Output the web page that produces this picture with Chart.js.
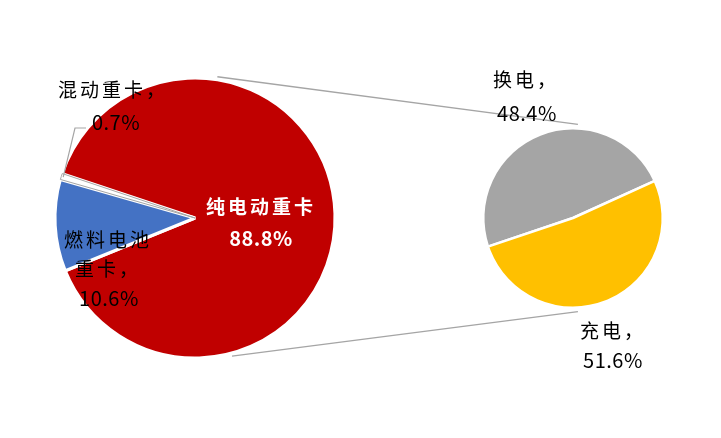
<!DOCTYPE html>
<html>
<head>
<meta charset="utf-8">
<script src="https://cdn.jsdelivr.net/npm/chart.js@4.4.0/dist/chart.umd.min.js"></script>
<style>
  html, body { margin: 0; padding: 0; background: #fff; }
  #wrap { position: relative; width: 721px; height: 438px; }
  #wrap canvas { position: absolute; left: 0; top: 0; }
</style>
</head>
<body>
<div id="wrap">
  <canvas id="mainPie" width="721" height="438"></canvas>
  <canvas id="subPie" width="721" height="438"></canvas>
</div>
<script>
// ******************************************************** DATA
var mainLabels = ['纯电动重卡', '燃料电池重卡', '混动重卡'];
var mainValues = [88.8, 10.6, 0.7];
var subLabels  = ['换电', '充电'];
var subValues  = [48.4, 51.6];

var mainColors = ['#C00000', '#4472C4', '#FFFFFF'];
var subColors  = ['#A5A5A5', '#FFC000'];

var CN_FONT = '"Noto Sans CJK SC", "Noto Sans", sans-serif';

function pct(v) { return v.toFixed(1) + '%'; }

// text lines for each slice: [text, x, y]
var mainText = [
  { color: '#FFFFFF', bold: true, lines: [[mainLabels[0], 261, 207], [pct(mainValues[0]), 261, 238]] },
  { color: '#000000', lines: [['燃料电池', 108, 240], ['重卡，', 108, 269], [pct(mainValues[1]), 109, 298]] },
  { color: '#000000', lines: [[mainLabels[2] + '，', 113, 90], [pct(mainValues[2]), 116, 122]] }
];
var subText = [
  { color: '#000000', lines: [[subLabels[0] + '，', 526, 80], [pct(subValues[0]), 527, 113]] },
  { color: '#000000', lines: [[subLabels[1] + '，', 613, 331], [pct(subValues[1]), 613, 360]] }
];

function drawTexts(ctx, list) {
  ctx.save();
  ctx.textAlign = 'center';
  ctx.textBaseline = 'middle';
  list.forEach(function (item) {
    ctx.fillStyle = item.color;
    item.lines.forEach(function (l) {
      var isNum = /%$/.test(l[0]);
      ctx.font = (item.bold ? 'bold ' : '') + (isNum ? '20px ' : '19px ') + CN_FONT;
      ctx.letterSpacing = isNum ? '0.5px' : '3px';
      ctx.fillText(l[0], l[1], l[2]);
    });
  });
  ctx.restore();
}

// ******************************************************** MAIN PIE
var mainLabelPlugin = {
  id: 'mainLabels',
  afterDatasetsDraw: function (chart) {
    var ctx = chart.ctx;
    var arc = chart.getDatasetMeta(0).data[2];
    var mid = (arc.startAngle + arc.endAngle) / 2;
    ctx.save();
    ctx.strokeStyle = '#A5A5A5';
    ctx.lineWidth = 1.2;
    ctx.beginPath();
    ctx.moveTo(arc.x + Math.cos(mid) * (arc.outerRadius - 2), arc.y + Math.sin(mid) * (arc.outerRadius - 2));
    ctx.lineTo(75, 128);
    ctx.lineTo(86, 128);
    ctx.stroke();
    ctx.restore();
    drawTexts(ctx, mainText);
  }
};

var mainChart = new Chart(document.getElementById('mainPie').getContext('2d'), {
  type: 'pie',
  data: {
    labels: mainLabels,
    datasets: [{
      data: mainValues,
      backgroundColor: mainColors,
      borderColor: ['#FFFFFF', '#FFFFFF', '#A5A5A5'],
      borderWidth: [3, 3, 1]
    }]
  },
  options: {
    responsive: false,
    animation: false,
    rotation: 288.5,
    layout: { padding: { left: 53.5, right: 384.5, top: 76.5, bottom: 78.5 } },
    plugins: { legend: { display: false }, tooltip: { enabled: false } }
  },
  plugins: [mainLabelPlugin]
});

// ******************************************************** SUB PIE
var subLabelPlugin = {
  id: 'subLabels',
  afterDatasetsDraw: function (chart) {
    var ctx = chart.ctx;
    var m = mainChart.getDatasetMeta(0).data[0];
    var s = chart.getDatasetMeta(0).data[0];
    var rad = Math.PI / 180;
    ctx.save();
    ctx.strokeStyle = '#A5A5A5';
    ctx.lineWidth = 1.5;
    ctx.beginPath();
    ctx.moveTo(m.x + Math.cos(-81 * rad) * (m.outerRadius + 3), m.y + Math.sin(-81 * rad) * (m.outerRadius + 3));
    ctx.lineTo(s.x + Math.cos(-87 * rad) * (s.outerRadius + 4), s.y + Math.sin(-87 * rad) * (s.outerRadius + 4));
    ctx.moveTo(m.x + Math.cos(75 * rad) * (m.outerRadius + 3), m.y + Math.sin(75 * rad) * (m.outerRadius + 3));
    ctx.lineTo(s.x + Math.cos(87 * rad) * (s.outerRadius + 4), s.y + Math.sin(87 * rad) * (s.outerRadius + 4));
    ctx.stroke();
    ctx.restore();
    drawTexts(ctx, subText);
  }
};

var subChart = new Chart(document.getElementById('subPie').getContext('2d'), {
  type: 'pie',
  data: {
    labels: subLabels,
    datasets: [{
      data: subValues,
      backgroundColor: subColors,
      borderColor: '#FFFFFF',
      borderWidth: 2.5
    }]
  },
  options: {
    responsive: false,
    animation: false,
    rotation: 251.4,
    layout: { padding: { left: 482, right: 57, top: 127, bottom: 129 } },
    plugins: { legend: { display: false }, tooltip: { enabled: false } }
  },
  plugins: [subLabelPlugin]
});
</script>
</body>
</html>
